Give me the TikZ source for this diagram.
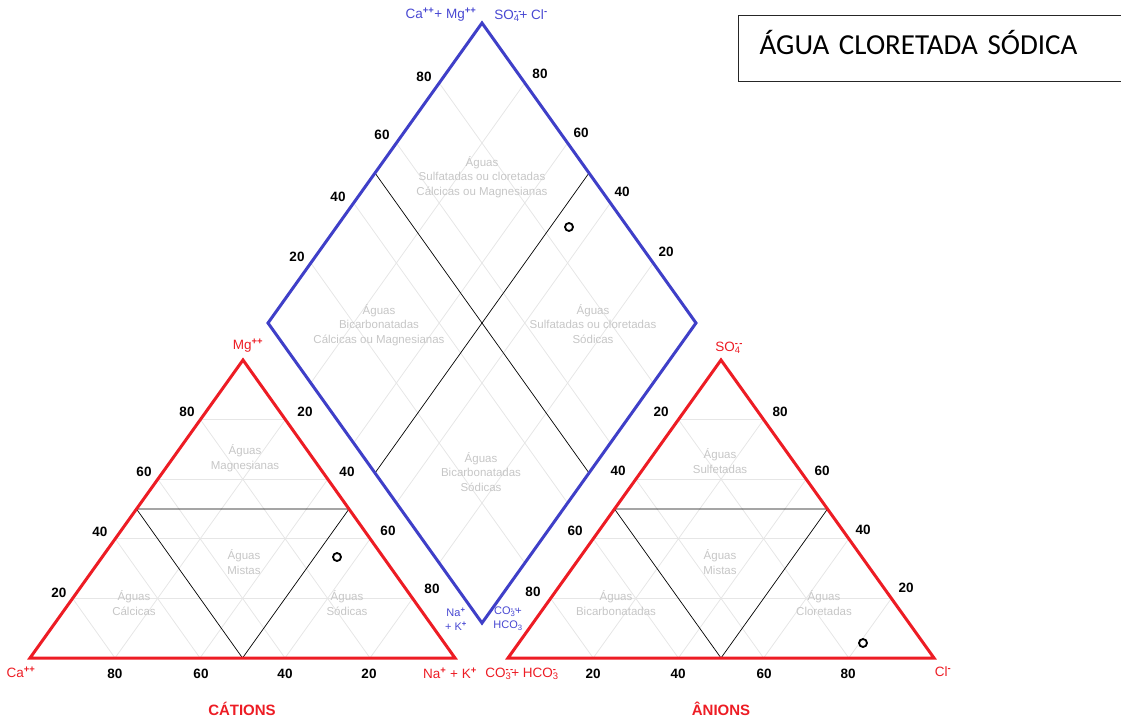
\documentclass[tikz,border=0pt]{standalone}
\usepackage{fontspec}
\setmainfont{Liberation Sans}
\newfontfamily\titlefont{Carlito}
\usetikzlibrary{calc}
\definecolor{piperred}{HTML}{ED1C24}
\definecolor{piperblue}{HTML}{3F3FC8}
\definecolor{ionblue}{HTML}{4848D2}
\definecolor{gridgray}{HTML}{E6E6E6}
\definecolor{zonegray}{HTML}{C6C6C6}
\newcommand{\ionup}[1]{\textsuperscript{\bfseries #1}}
\newcommand{\ionud}[2]{\rlap{\textsuperscript{\bfseries #1}}\textsubscript{#2}}
\newcommand{\twominus}{{-}\kern1.4pt{-}}
\tikzset{ticklabel/.style={font=\fontsize{13.5}{15}\selectfont\bfseries},
	ion/.style={font=\fontsize{13.5}{15}\selectfont},
	zone/.style={text=zonegray,align=center,font=\fontsize{11.5}{14.5}\selectfont},
	outline/.style={line width=3pt,line join=miter},
	grid line/.style={gridgray,line width=0.8pt},
	divider/.style={black,line width=0.7pt},
	sample/.style={circle,draw=black,line width=1.8pt,inner sep=0pt,minimum size=8pt}}

\begin{document}
\begin{tikzpicture}[x=1pt,y=-1pt]
		\useasboundingbox (0,0) rectangle (1121,722);
		% corners
		\coordinate (Ca) at (30,658);
		\coordinate (NaK) at (455,658);
		\coordinate (Mg) at (243,360);
		\coordinate (CO3) at (508,658);
		\coordinate (Cl) at (934,658);
		\coordinate (SO4) at (721,360);
		\coordinate (Dtop) at (482,23);
		\coordinate (Dleft) at (268,323);
		\coordinate (Dright) at (696,323);
		\coordinate (Dbot) at (482,623);
		% grid
		\foreach \t in {0.2,0.4,0.6,0.8}{
			\foreach \A/\B/\C in {Ca/NaK/Mg,CO3/Cl/SO4}{
				\draw[grid line] ($(\A)!\t!(\C)$) -- ($(\B)!\t!(\C)$);
				\draw[grid line] ($(\A)!\t!(\B)$) -- ($(\C)!\t!(\B)$);
				\draw[grid line] ($(\B)!\t!(\A)$) -- ($(\C)!\t!(\A)$);
			}
			\draw[grid line] ($(Dbot)!\t!(Dleft)$) -- ($(Dright)!\t!(Dtop)$);
			\draw[grid line] ($(Dbot)!\t!(Dright)$) -- ($(Dleft)!\t!(Dtop)$);
		}
		% class borders
		\foreach \A/\B/\C in {Ca/NaK/Mg,CO3/Cl/SO4}
			\draw[divider] ($(\A)!.5!(\C)$) -- ($(\B)!.5!(\C)$) -- ($(\A)!.5!(\B)$) -- cycle;
		\draw[divider] ($(Dleft)!.5!(Dtop)$) -- ($(Dbot)!.5!(Dright)$);
		\draw[divider] ($(Dtop)!.5!(Dright)$) -- ($(Dleft)!.5!(Dbot)$);
		% outlines
		\draw[outline,piperred] (Ca) -- (NaK) -- (Mg) -- cycle;
		\draw[outline,piperred] (CO3) -- (Cl) -- (SO4) -- cycle;
		\draw[outline,piperblue] (Dbot) -- (Dleft) -- (Dtop) -- (Dright) -- cycle;
		% scale numbers
		\foreach \v/\x/\y [count=\i] in {20/59/593,40/100/532,60/144/472,80/187/412,
			80/115/674,60/201/674,40/285/674,20/369/674,
			20/305/412,40/347/472,60/388/531,80/432/589,
			20/661/412,40/618/471,60/575/531,80/533/592,
			20/593/674,40/678/674,60/764/674,80/848/674,
			80/780/412,60/822/471,40/863/530,20/906/588,
			20/297/257,40/338/197,60/382/135,80/424/77,
			80/540/74,60/581/133,40/622/192,20/666/252}
			\node[ticklabel] (tick\i) at (\x,\y) {\v};
		% water types
		\begin{scope}[every node/.style={zone}]
			\node (magn) at (245,458) {Águas\\Magnesianas};
			\node (mistC) at (244,562) {Águas\\Mistas};
			\node (calc) at (134,603) {Águas\\Cálcicas};
			\node (sodC) at (347,603) {Águas\\Sódicas};
			\node (sulf) at (720,461) {Águas\\Sulfetadas};
			\node (mistA) at (720,562) {Águas\\Mistas};
			\node (bicA) at (616,603) {Águas\\Bicarbonatadas};
			\node (clor) at (824,603) {Águas\\Cloretadas};
			\node (dTopZone) at (482,177) {Águas\\Sulfatadas ou cloretadas\\Cálcicas ou Magnesianas};
			\node (dLeftZone) at (379,325) {Águas\\Bicarbonatadas\\Cálcicas ou Magnesianas};
			\node (dRightZone) at (593,324) {Águas\\Sulfatadas ou cloretadas\\Sódicas};
			\node (dBotZone) at (481,472) {Águas\\Bicarbonatadas\\Sódicas};
		\end{scope}
		% ions
		\begin{scope}[every node/.style={ion,text=piperred}]
			\node (lMg) at (248,346) {Mg\ionup{++}};
			\node (lCa) at (21,672) {Ca\ionup{++}};
			\node (lNaK) at (450,673) {Na\ionup{+} + K\ionup{+}};
			\node (lCO3) at (522,674) {CO\ionud{\twominus}{3}+ HCO\ionud{-}{3}};
			\node (lCl) at (943,672) {Cl\ionup{-}};
			\node (lSO4) at (728,348) {SO\ionud{\twominus}{4}};
		\end{scope}
		\begin{scope}[every node/.style={ion,text=ionblue,inner sep=1pt}]
			\node (lCaMg) at (441,15) {Ca\ionup{++}+ Mg\ionup{++}};
			\node (lSO4Cl) at (521,16) {SO\ionud{\twominus}{4}+ Cl\ionup{-}};
			\node[align=center,font=\fontsize{11}{14}\selectfont] (lNaKd) at (456,619) {Na\ionup{+}\\+ K\ionup{+}};
			\node[align=center,font=\fontsize{11}{14}\selectfont] (lCO3d) at (508,619) {CO\ionud{\twominus}{3}+\\HCO\textsubscript{3}};
		\end{scope}
		\node[text=piperred,font=\fontsize{15}{17}\selectfont\bfseries] (cations) at (242,709) {CÁTIONS};
		\node[text=piperred,font=\fontsize{15}{17}\selectfont\bfseries] (anions) at (721,709) {ÂNIONS};
		% samples
		\node[sample] (pCat) at (337,557) {};
		\node[sample] (pDia) at (569,227) {};
		\node[sample] (pAni) at (863,643) {};
		% title
		\node[draw=black!85,line width=1.3pt,anchor=north west,text width=360pt,inner xsep=21pt,
			text height=19pt,text depth=7pt,minimum height=66pt,font=\titlefont\fontsize{29}{33}\selectfont]
			(title) at (738,15) {ÁGUA CLORETADA SÓDICA};
	\end{tikzpicture}
\end{document}
